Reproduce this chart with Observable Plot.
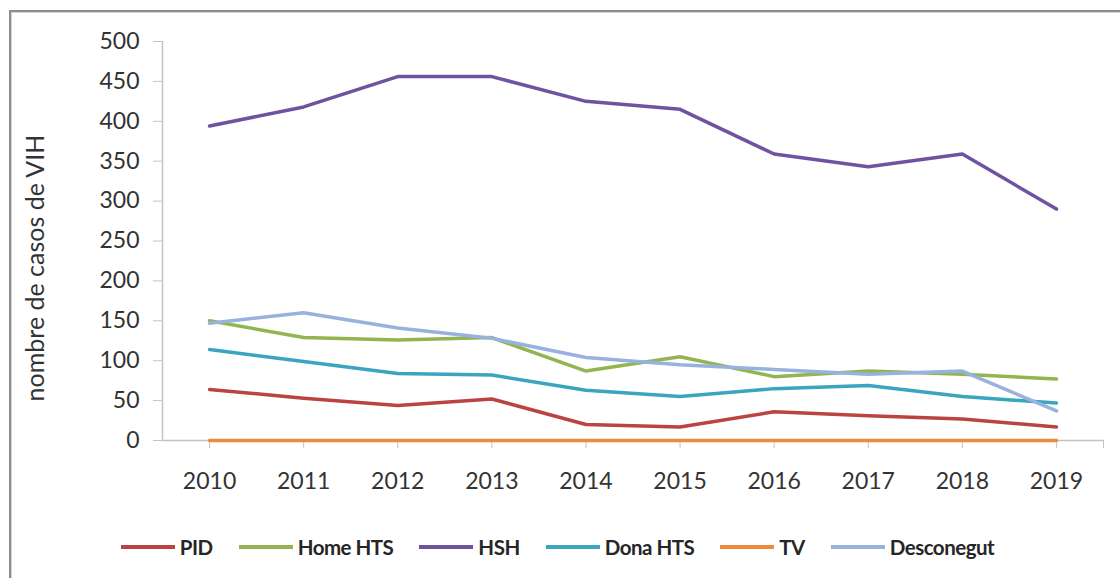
<!DOCTYPE html>
<html>
<head>
<meta charset="utf-8">
<script src="https://cdn.jsdelivr.net/npm/d3@7"></script>
<script src="https://cdn.jsdelivr.net/npm/@observablehq/plot@0.6"></script>
<style>
  html, body { margin: 0; padding: 0; background: #fff; }
  body { width: 1120px; height: 578px; position: relative; overflow: hidden; font-family: Lato, "Open Sans", sans-serif; }
  #frame { position: absolute; left: 9px; top: 10px; width: 1200px; height: 700px;
           border-top: 2px solid #8c8c8c; border-left: 2px solid #8c8c8c;
           box-shadow: inset 1px 1px 0 #d4d4d4; }
  #chart { position: absolute; left: 0; top: 0; }
  #legend { position: absolute; left: 0; top: 535px; width: 1115px; display: flex; justify-content: center; align-items: center; }
  .item { display: flex; align-items: center; margin: 0 13px; }
  .sw { width: 54px; height: 4px; margin-right: 5px; }
  .lab { font-weight: bold; font-size: 20.5px; color: #262626; letter-spacing: -0.5px; }
</style>
</head>
<body>
<div id="frame"></div>
<div id="chart"></div>
<div id="legend"></div>
<script>
const years = [2010, 2011, 2012, 2013, 2014, 2015, 2016, 2017, 2018, 2019];
const seriesNames = ["PID", "Home HTS", "HSH", "Dona HTS", "TV", "Desconegut"];
const pid        = [64, 53, 44, 52, 20, 17, 36, 31, 27, 17];
const homeHTS    = [150, 129, 126, 129, 87, 105, 80, 87, 83, 77];
const hsh        = [394, 418, 456, 456, 425, 415, 359, 343, 359, 290];
const donaHTS    = [114, 99, 84, 82, 63, 55, 65, 69, 55, 47];
const tv         = [0, 0, 0, 0, 0, 0, 0, 0, 0, 0];
const desconegut = [147, 160, 141, 128, 104, 95, 89, 83, 87, 37];
const yTicks = [0, 50, 100, 150, 200, 250, 300, 350, 400, 450, 500];
const yLabel = "nombre de casos de VIH";
const colors = ["#BA4441", "#93B551", "#6F52A0", "#3BA4BE", "#EC8A40", "#97B2DE"];

const seriesValues = [pid, homeHTS, hsh, donaHTS, tv, desconegut];
const data = seriesNames.flatMap((name, i) =>
  years.map((year, j) => ({series: name, year, value: seriesValues[i][j]})));

const gray = "#c4c4c4";
const chart = Plot.plot({
  width: 1120,
  height: 500,
  marginLeft: 162,
  marginRight: 17,
  marginTop: 41,
  marginBottom: 60,
  style: {fontFamily: "Lato, 'Open Sans', sans-serif", fontSize: "23px", color: "#333", background: "transparent"},
  x: {type: "linear", domain: [years[0] - 0.5, years[years.length - 1] + 0.5]},
  y: {domain: [0, 500]},
  color: {domain: seriesNames, range: colors},
  marks: [
    Plot.ruleX([years[0] - 0.5], {stroke: gray, strokeWidth: 1.5}),
    Plot.ruleY([0], {stroke: gray, strokeWidth: 1.5}),
    Plot.axisY({ticks: yTicks, tickSize: 9, tickPadding: 14, stroke: gray, fill: "#333", label: null}),
    Plot.axisX({ticks: [...years, years[years.length - 1] + 0.5], tickSize: 8, tickPadding: 24,
      tickFormat: d => Number.isInteger(d) ? String(d) : "", stroke: gray, fill: "#333", label: null}),
    Plot.line(data, {x: "year", y: "value", z: "series", stroke: "series", strokeWidth: 3.5, strokeLinejoin: "round"}),
    Plot.text([yLabel], {text: d => d, frameAnchor: "left", rotate: -90, dx: -119, dy: 27,
      lineAnchor: "bottom", textAnchor: "middle", fontSize: 25, fill: "#333"})
  ]
});
document.getElementById("chart").appendChild(chart);

const legend = document.getElementById("legend");
seriesNames.forEach((name, i) => {
  const item = document.createElement("div");
  item.className = "item";
  const sw = document.createElement("div");
  sw.className = "sw";
  sw.style.background = colors[i];
  const lab = document.createElement("span");
  lab.className = "lab";
  lab.textContent = name;
  item.appendChild(sw);
  item.appendChild(lab);
  legend.appendChild(item);
});
</script>
</body>
</html>
